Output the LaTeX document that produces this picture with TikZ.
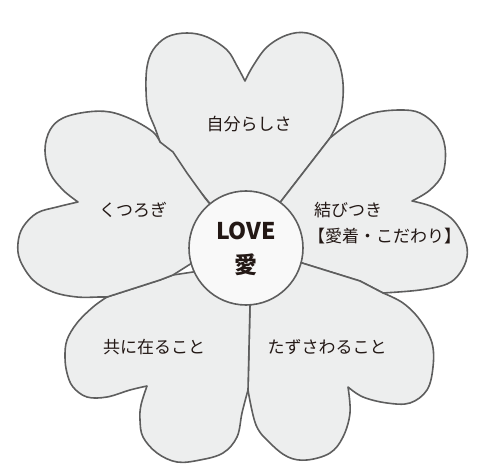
\documentclass[tikz,border=0pt]{standalone}
\usepackage{fontspec}
\newfontfamily\jp{Noto Sans CJK JP}
\definecolor{petalfill}{HTML}{EDEEEE}
\definecolor{centerfill}{HTML}{F9F9F9}
\definecolor{outline}{HTML}{5E5E5E}
\definecolor{ink}{HTML}{231815}
\tikzset{
  petal/.style={fill=petalfill, draw=outline, line width=1.6pt, line join=round},
  hub/.style={circle, fill=centerfill, draw=outline, line width=1.6pt, minimum size=114pt, inner sep=0pt},
  label/.style={text=ink, font=\jp\fontsize{17}{22}\selectfont, inner sep=0pt},
  biglabel/.style={text=ink, font=\jp\bfseries\fontsize{23}{26}\selectfont, inner sep=0pt},
  sm/.style={smooth, tension=0.6}
}
\begin{document}
\begin{tikzpicture}[x=1pt, y=-1pt]
\useasboundingbox (0,0) rectangle (493,473);
% top petal
\filldraw[petal] (246,248) -- (207,200) -- (160,142)
  -- plot[sm] coordinates {(160,142) (155,128) (148,110) (146,90) (147,67) (153,50) (167,37) (187,33) (207,37) (227,50) (237,66) (245,81)}
  -- plot[sm] coordinates {(245,81) (253,66) (267,47) (287,35) (307,33) (327,43) (338,60) (343,83) (342,107) (337,124) (330,138)}
  -- (282,200) -- cycle;
% right petal
\filldraw[petal] (246,248) -- (282,200) -- (330,138)
  -- plot[sm] coordinates {(330,138) (350,123) (373,113) (400,110) (420,113) (437,127) (445,147) (443,173) (430,190) (412,201)}
  -- plot[sm] coordinates {(412,201) (433,207) (453,220) (465,240) (467,257) (460,273) (447,284) (420,290) (383,293)}
  -- (360,281) -- (302,263) -- cycle;
% lower right petal
\filldraw[petal] (246,248) -- (302,263) -- (360,281) -- (383,293)
  -- plot[sm] coordinates {(383,293) (403,303) (420,320) (432,343) (433,367) (427,390) (410,403) (387,403) (363,397) (348,387)}
  -- plot[sm] coordinates {(348,387) (350,413) (343,437) (330,453) (307,460) (288,457) (270,443) (256,425) (248,390)}
  -- (250,305) -- cycle;
% lower left petal
\filldraw[petal] (246,248) -- (193,272) -- (173,275) -- (160,280) -- (107,297)
  -- plot[sm] coordinates {(107,297) (93,307) (77,323) (67,340) (65,357) (67,373) (73,387) (87,397) (107,397) (130,390) (147,386)}
  -- plot[sm] coordinates {(147,386) (141,405) (140,420) (143,437) (157,453) (177,462) (200,460) (223,453) (237,437) (242,413) (248,390)}
  -- (250,305) -- cycle;
% left petal
\filldraw[petal] (246,248) -- (205,198) -- (187,173) -- (173,152) -- (160,142)
  -- plot[sm] coordinates {(160,142) (153,132) (133,120) (110,112) (87,112) (63,118) (50,130) (45,150) (50,173) (63,190) (78,202)}
  -- plot[sm] coordinates {(78,202) (57,207) (37,213) (23,227) (18,243) (20,260) (33,280) (53,292) (77,297) (100,297) (107,297)}
  -- (160,280) -- (173,275) -- (192,263) -- cycle;
% centre
\node[hub] (c) at (246,248) {};
\node[biglabel] (love) at (246,231) {LOVE};
\node[biglabel] (ai) at (246,265) {愛};
% labels
\node[label] (t1) at (249,124) {自分らしさ};
\node[label] (t2) at (133,210) {くつろぎ};
\node[label, anchor=west] (t3) at (314,210) {結びつき};
\node[label, anchor=west] (t4) at (308,236) {【愛着・こだわり】};
\node[label] (t5) at (154,347) {共に在ること};
\node[label] (t6) at (327,347) {たずさわること};
\end{tikzpicture}
\end{document}
